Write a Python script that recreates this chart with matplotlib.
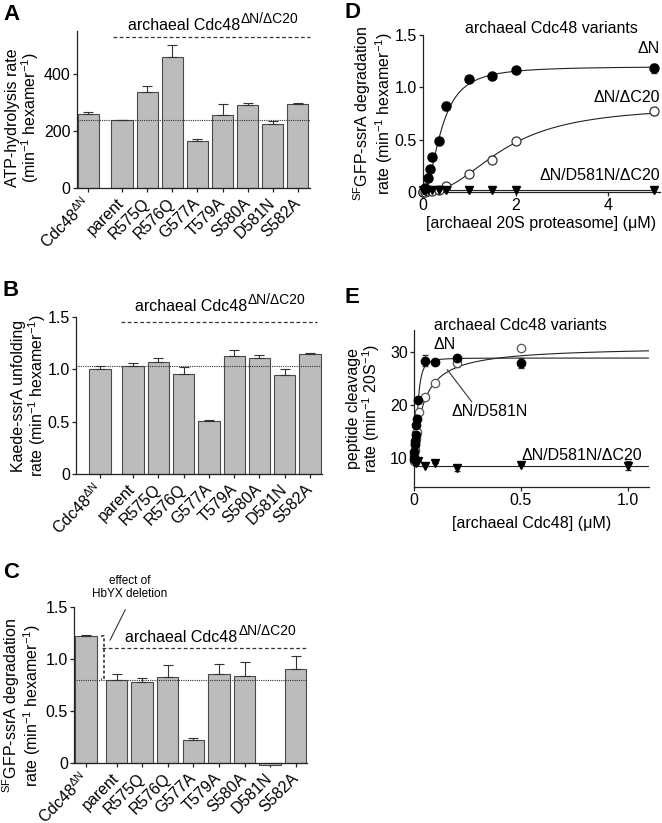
import numpy as np
import matplotlib
matplotlib.use("Agg")
import matplotlib.pyplot as plt

plt.rcParams['font.family'] = ['Liberation Sans', 'DejaVu Sans']
plt.rcParams['mathtext.fontset'] = 'custom'
plt.rcParams['mathtext.rm'] = 'Liberation Sans'
plt.rcParams['mathtext.it'] = 'Liberation Sans:italic'
plt.rcParams['mathtext.bf'] = 'Liberation Sans:bold'
plt.rcParams['font.size'] = 11.5

# ---- data ----
mutants = ['Cdc48$^{\\mathrm{\\Delta N}}$', 'parent', 'R575Q', 'R576Q', 'G577A',
           'T579A', 'S580A', 'D581N', 'S582A']

atp_rate = [258, 237, 338, 460, 165, 255, 292, 225, 295]
atp_err = [7, 3, 20, 42, 6, 38, 8, 10, 5]

kaede_rate = [1.00, 1.03, 1.07, 0.96, 0.51, 1.13, 1.11, 0.95, 1.15]
kaede_err = [0.03, 0.03, 0.04, 0.06, 0.01, 0.05, 0.03, 0.05, 0.01]

gfp_rate = [1.22, 0.80, 0.78, 0.83, 0.22, 0.86, 0.84, -0.02, 0.90]
gfp_err = [0.01, 0.06, 0.04, 0.11, 0.02, 0.09, 0.13, 0.0, 0.13]

# panel D: 20S titration
d_dn_x = [0, 0.05, 0.1, 0.15, 0.2, 0.35, 0.5, 1, 1.5, 2, 5]
d_dn_y = [0.0, 0.04, 0.13, 0.22, 0.33, 0.49, 0.82, 1.08, 1.11, 1.17, 1.18]
d_dn_err = [0, 0, 0, 0, 0, 0, 0.04, 0, 0, 0, 0.04]
d_dc_x = [0, 0.05, 0.1, 0.2, 0.35, 0.5, 1, 1.5, 2, 5]
d_dc_y = [0.0, 0.0, 0.01, 0.01, 0.02, 0.06, 0.17, 0.31, 0.49, 0.77]
d_dc_err = [0, 0, 0, 0, 0, 0, 0, 0.03, 0, 0.03]
d_tri_x = [0, 0.05, 0.1, 0.2, 0.35, 0.5, 1, 1.5, 2, 5]
d_tri_y = [0.02, 0.01, 0.02, 0.02, 0.02, 0.02, 0.02, 0.02, 0.02, 0.02]
# Hill fits (Vmax, K, n)
d_dn_fit = (1.2, 0.4, 2.0)
d_dc_fit = (0.82, 1.75, 2.3)
d_tri_level = 0.02

# panel E: Cdc48 titration
e_dn_x = [0, 0.002, 0.004, 0.006, 0.008, 0.01, 0.012, 0.02, 0.05, 0.1, 0.2, 0.5]
e_dn_y = [9.9, 11.2, 12.6, 13.3, 14.3, 16.2, 17.3, 21.0, 28.3, 28.1, 28.8, 27.9]
e_dn_err = [0, 0, 0, 0, 0.6, 0, 0.8, 0.5, 1.0, 0, 0.6, 1.0]
e_d581_x = [0, 0.002, 0.004, 0.006, 0.008, 0.01, 0.012, 0.023, 0.05, 0.1, 0.2, 0.5]
e_d581_y = [9.5, 10.5, 11.5, 12.5, 13.5, 14.7, 15.0, 18.7, 21.4, 24.2, 27.9, 30.6]
e_d581_err = [0, 0, 0, 0, 0, 0, 0, 0, 0, 0, 0.7, 0]
e_tri_x = [0, 0.002, 0.005, 0.01, 0.02, 0.05, 0.1, 0.2, 0.5, 1.0]
e_tri_y = [9.2, 9.6, 9.4, 9.0, 9.4, 8.6, 9.1, 8.1, 8.7, 8.6]
e_tri_err = [0, 0, 0, 0, 0, 0, 0, 0.6, 0, 0.9]
# fits: (base, amplitude, K, n)
e_dn_fit = (9.3, 19.5, 0.017, 2.2)
e_d581_fit = (9.5, 21.5, 0.045, 1.0)
e_tri_level = 8.5

W, H = 662, 823
fig = plt.figure(figsize=(W / 100, H / 100), dpi=100)


def axrect(left, top, right, bottom):
    return fig.add_axes([left / W, 1 - bottom / H, (right - left) / W, (bottom - top) / H])


def style(ax):
    for s in ['top', 'right']:
        ax.spines[s].set_visible(False)
    for s in ['left', 'bottom']:
        ax.spines[s].set_linewidth(0.9)
        ax.spines[s].set_color('#222222')
    ax.tick_params(length=3, width=0.9, pad=1.5, color='#222222', labelsize=11.5)


def hill(x, vmax, k, n):
    return vmax * x ** n / (k ** n + x ** n)


def ylab(ax, xfrac, yfrac, s):
    ax.text(xfrac, yfrac, s, rotation=90, ha='center', va='center', transform=ax.transAxes,
            multialignment='center', linespacing=1.0)


def header(ax, xsplit, y, ydash, x0, x1):
    # "archaeal Cdc48" with a larger-than-mathtext superscript
    ax.text(xsplit, y, 'archaeal Cdc48', ha='right', va='baseline')
    ax.annotate('ΔN/ΔC20', (xsplit, y), xytext=(0.5, 5), textcoords='offset points',
                ha='left', va='baseline', fontsize=10, annotation_clip=False)
    ax.plot([x0, x1], [ydash, ydash], ls=(0, (3, 2)), color='#333333', lw=0.9, clip_on=False)


rate_unit = '(min$^{-1}$ hexamer$^{-1}$)'


def bar_panel(ax, vals, errs, gap, xlim, ylim, yticks, yticklabels):
    style(ax)
    x = np.array([0] + [gap + i for i in range(8)])
    ax.bar(x, vals, width=0.84, color='#bcbcbc', edgecolor='#4a4a4a', linewidth=0.8,
           clip_on=False, zorder=2)
    ax.errorbar(x, vals, yerr=[np.zeros(len(errs)), errs], fmt='none', ecolor='#333333',
                elinewidth=0.8, capsize=3.3, capthick=0.8, zorder=3)
    ax.set_xlim(*xlim)
    ax.set_ylim(*ylim)
    ax.set_yticks(yticks)
    ax.set_yticklabels(yticklabels)
    ax.set_xticks(x)
    ax.set_xticklabels(mutants, rotation=45, ha='right', va='center', rotation_mode='anchor')
    ax.tick_params(axis='x', pad=6)
    ax.axhline(vals[1], color='#333333', lw=0.8, ls=(0, (1, 1)), zorder=4)
    return x


# ---- A ----
axA = axrect(77, 31.25, 310, 188)
bar_panel(axA, atp_rate, atp_err, 1.35, (-0.44, 8.83), (0, 550), [0, 200, 400], ['0', '200', '400'])
header(axA, 6.05, 555, 530, 0.99, 8.83)
ylab(axA, -0.232, 0.45, 'ATP-hydrolysis rate\n' + rate_unit)

# ---- B ----
axB = axrect(76, 317, 322, 474)
bar_panel(axB, kaede_rate, kaede_err, 1.3, (-0.95, 8.77), (0, 1.5), [0, 0.5, 1.0, 1.5],
          ['0', '0.5', '1.0', '1.5'])
header(axB, 5.81, 1.555, 1.455, 0.82, 8.56)
ylab(axB, -0.19, 0.5, 'Kaede-ssrA unfolding\nrate ' + rate_unit)

# ---- C ----
axC = axrect(74, 606.7, 307, 763.3)
bar_panel(axC, gfp_rate, gfp_err, 1.2, (-0.46, 8.64), (0, 1.5), [0, 0.5, 1.0, 1.5],
          ['0', '0.5', '1.0', '1.5'])
header(axC, 5.93, 1.16, 1.1, 0.63, 8.64)
axC.plot([0.58, 0.72, 0.72, 0.58], [gfp_rate[0], gfp_rate[0], gfp_rate[1] + 0.01, gfp_rate[1] + 0.01],
         ls=(0, (2, 1.5)), color='#222222', lw=1.1)
axC.plot([0.95, 1.54], [1.18, 1.47], color='#333333', lw=0.8, clip_on=False)
axC.text(1.7, 1.68, 'effect of\nHbYX deletion', ha='center', va='center', fontsize=8.5,
         multialignment='center', linespacing=1.1)
ylab(axC, -0.225, 0.37, '$^{\\mathrm{SF}}$GFP-ssrA degradation\nrate ' + rate_unit)

# ---- D ----
axD = axrect(423, 35, 660, 192)
style(axD)
xx = np.linspace(0, 5, 400)
axD.plot(xx, hill(xx, *d_dn_fit), color='#222222', lw=0.8)
axD.plot(xx, hill(xx, *d_dc_fit), color='#222222', lw=0.8)
axD.plot([0, 5], [d_tri_level, d_tri_level], color='#222222', lw=0.8)
axD.errorbar(d_dn_x, d_dn_y, yerr=d_dn_err, fmt='o', ms=6.5, mfc='black', mec='black',
             ecolor='#333333', elinewidth=0.8, capsize=2.5, clip_on=False, zorder=4)
axD.errorbar(d_dc_x, d_dc_y, yerr=d_dc_err, fmt='o', ms=6.5, mfc='white', mec='#333333', mew=0.9,
             ecolor='#333333', elinewidth=0.8, capsize=2.5, clip_on=False, zorder=4)
axD.plot(d_tri_x, d_tri_y, 'v', ms=5.5, color='black', clip_on=False, zorder=5)
axD.set_xlim(0, 5.12)
axD.set_ylim(0, 1.5)
axD.set_xticks([0, 2, 4])
axD.set_xticklabels(['0', '2', '4'])
axD.set_yticks([0, 0.5, 1.0, 1.5])
axD.set_yticklabels(['0', '0.5', '1.0', '1.5'])
axD.set_xlabel('[archaeal 20S proteasome] (μM)', labelpad=2)
axD.text(0.54, 1.04, 'archaeal Cdc48 variants', ha='center', va='center', transform=axD.transAxes)
axD.text(1.0, 0.917, 'ΔN', ha='right', va='center', transform=axD.transAxes)
axD.text(1.0, 0.605, 'ΔN/ΔC20', ha='right', va='center', transform=axD.transAxes)
axD.text(1.0, 0.108, 'ΔN/D581N/ΔC20', ha='right', va='center', transform=axD.transAxes)
ylab(axD, -0.21, 0.5, '$^{\\mathrm{SF}}$GFP-ssrA degradation\nrate ' + rate_unit)

# ---- E ----
axE = axrect(414, 330, 649, 486.7)
style(axE)
xe = np.linspace(0, 1.1, 1000)
axE.plot(xe, e_dn_fit[0] + hill(xe, e_dn_fit[1], e_dn_fit[2], e_dn_fit[3]), color='#222222', lw=0.8)
axE.plot(xe, e_d581_fit[0] + hill(xe, e_d581_fit[1], e_d581_fit[2], e_d581_fit[3]), color='#222222', lw=0.8)
axE.plot([0, 1.1], [e_tri_level, e_tri_level], color='#222222', lw=0.8)
axE.errorbar(e_d581_x, e_d581_y, yerr=e_d581_err, fmt='o', ms=6, mfc='white', mec='#555555', mew=0.9,
             ecolor='#555555', elinewidth=0.8, capsize=2.5, clip_on=False, zorder=4)
axE.errorbar(e_dn_x, e_dn_y, yerr=e_dn_err, fmt='o', ms=6, mfc='black', mec='black',
             ecolor='#333333', elinewidth=0.8, capsize=2.5, clip_on=False, zorder=5)
axE.errorbar(e_tri_x, e_tri_y, yerr=e_tri_err, fmt='v', ms=5.5, mfc='black', mec='black',
             ecolor='#333333', elinewidth=0.8, capsize=2.5, clip_on=False, zorder=6)
axE.set_xlim(0, 1.1)
axE.set_ylim(4.63, 34.07)
axE.set_xticks([0, 0.5, 1.0])
axE.set_xticklabels(['0', '0.5', '1.0'])
axE.set_yticks([10, 20, 30])
axE.set_xlabel('[archaeal Cdc48] (μM)', labelpad=6)
axE.text(0.453, 1.03, 'archaeal Cdc48 variants', ha='center', va='center', transform=axE.transAxes)
axE.text(0.143, 31.3, 'ΔN', ha='center', va='center')
axE.text(0.355, 18.7, 'ΔN/D581N', ha='center', va='center')
axE.plot([0.156, 0.27], [26.6, 20.6], color='#333333', lw=0.8)
axE.text(0.784, 10.45, 'ΔN/D581N/ΔC20', ha='center', va='center')
ylab(axE, -0.213, 0.5, 'peptide cleavage\nrate (min$^{-1}$ 20S$^{-1}$)')

# panel letters
for lab, px, py in [('A', 3, 4), ('B', 3, 280), ('C', 3, 562), ('D', 344, 2), ('E', 344, 287)]:
    fig.text(px / W, 1 - py / H, lab, fontsize=16, fontweight='bold', ha='left', va='top')

fig.savefig('out.png', dpi=100)
